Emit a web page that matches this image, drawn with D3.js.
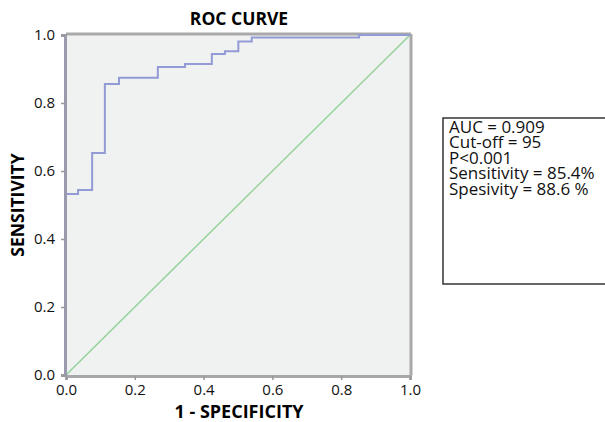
<!DOCTYPE html>
<html>
<head>
<meta charset="utf-8">
<script src="https://cdn.jsdelivr.net/npm/d3@7"></script>
<style>
body { margin: 0; background: #fff; }
text { font-family: "Open Sans", "Noto Sans", sans-serif; }
</style>
</head>
<body>
<div id="chart"></div>
<script>
// ROC steps
var fpr = [0, 0, 0.035, 0.076, 0.113, 0.154, 0.267, 0.346, 0.424, 0.462, 0.501, 0.540, 0.852, 1.0];
var tpr = [0, 0.532, 0.544, 0.653, 0.856, 0.874, 0.906, 0.915, 0.944, 0.952, 0.981, 0.993, 1.0, 1.0];
var ticks = [0, 0.2, 0.4, 0.6, 0.8, 1.0];
var statLines = ["AUC = 0.909", "Cut-off = 95", "P<0.001", "Sensitivity = 85.4%", "Spesivity = 88.6 %"];

var width = 605, height = 422;
var svg = d3.select("#chart").append("svg")
    .attr("width", width).attr("height", height);

var x = d3.scaleLinear().domain([0, 1]).range([66, 410]);
var y = d3.scaleLinear().domain([0, 1]).range([375, 35]);

// plot background
svg.append("rect")
    .attr("x", x(0)).attr("y", y(1))
    .attr("width", x(1) - x(0)).attr("height", y(0) - y(1))
    .attr("fill", "#f0f1f1");

// top and right frame
svg.append("line").attr("x1", x(0)).attr("x2", x(1) + 1).attr("y1", y(1) - 1).attr("y2", y(1) - 1)
    .attr("stroke", "#a9a9a9").attr("stroke-width", 3);
svg.append("line").attr("x1", x(1) + 1).attr("x2", x(1) + 1).attr("y1", y(1) - 1).attr("y2", y(0))
    .attr("stroke", "#a9a9a9").attr("stroke-width", 3);

// diagonal reference
svg.append("line")
    .attr("x1", x(0)).attr("y1", y(0)).attr("x2", x(1)).attr("y2", y(1))
    .attr("stroke", "#94d39a").attr("stroke-width", 1.5);

// ROC curve as step line
var pts = fpr.map(function (d, i) { return [d, tpr[i]]; });
var line = d3.line()
    .x(function (d) { return x(d[0]); })
    .y(function (d) { return y(d[1]); })
    .curve(d3.curveStepAfter);
svg.append("path").datum(pts)
    .attr("d", line)
    .attr("fill", "none")
    .attr("stroke", "#939bd6")
    .attr("stroke-width", 2);

// axes
var xAxis = svg.append("g").attr("transform", "translate(0," + (y(0) + 1) + ")")
    .call(d3.axisBottom(x).tickValues(ticks).tickFormat(d3.format(".1f")).tickSize(4).tickPadding(4));
var yAxis = svg.append("g").attr("transform", "translate(" + (x(0) - 1) + ",0)")
    .call(d3.axisLeft(y).tickValues(ticks).tickFormat(d3.format(".1f")).tickSize(4).tickPadding(6));
xAxis.select(".domain").attr("stroke", "#a8a8aa").attr("stroke-width", 3);
yAxis.select(".domain").attr("stroke", "#9a9aae").attr("stroke-width", 3);
svg.selectAll(".tick line").attr("stroke", "#999").attr("stroke-width", 1.5);
svg.selectAll(".tick text").attr("font-size", 15).attr("fill", "#111")
    .style("font-family", "'Open Sans', sans-serif");

// titles
svg.append("text").attr("x", 239).attr("y", 25).attr("text-anchor", "middle")
    .attr("font-weight", "bold").attr("font-size", 17.5).text("ROC CURVE");
svg.append("text").attr("x", 239).attr("y", 418).attr("text-anchor", "middle")
    .attr("font-weight", "bold").attr("font-size", 18).text("1 - SPECIFICITY");
svg.append("text").attr("transform", "translate(24,205) rotate(-90)").attr("text-anchor", "middle")
    .attr("font-weight", "bold").attr("font-size", 17.5).text("SENSITIVITY");

// stats box
svg.append("rect").attr("x", 443).attr("y", 118).attr("width", 200).attr("height", 166)
    .attr("fill", "#fff").attr("stroke", "#333").attr("stroke-width", 1.5);
svg.append("g").selectAll("text").data(statLines).enter().append("text")
    .attr("x", 449)
    .attr("y", function (d, i) { return 133 + i * 15.4; })
    .attr("font-size", 17)
    .attr("fill", "#111")
    .text(function (d) { return d; });
</script>
</body>
</html>
